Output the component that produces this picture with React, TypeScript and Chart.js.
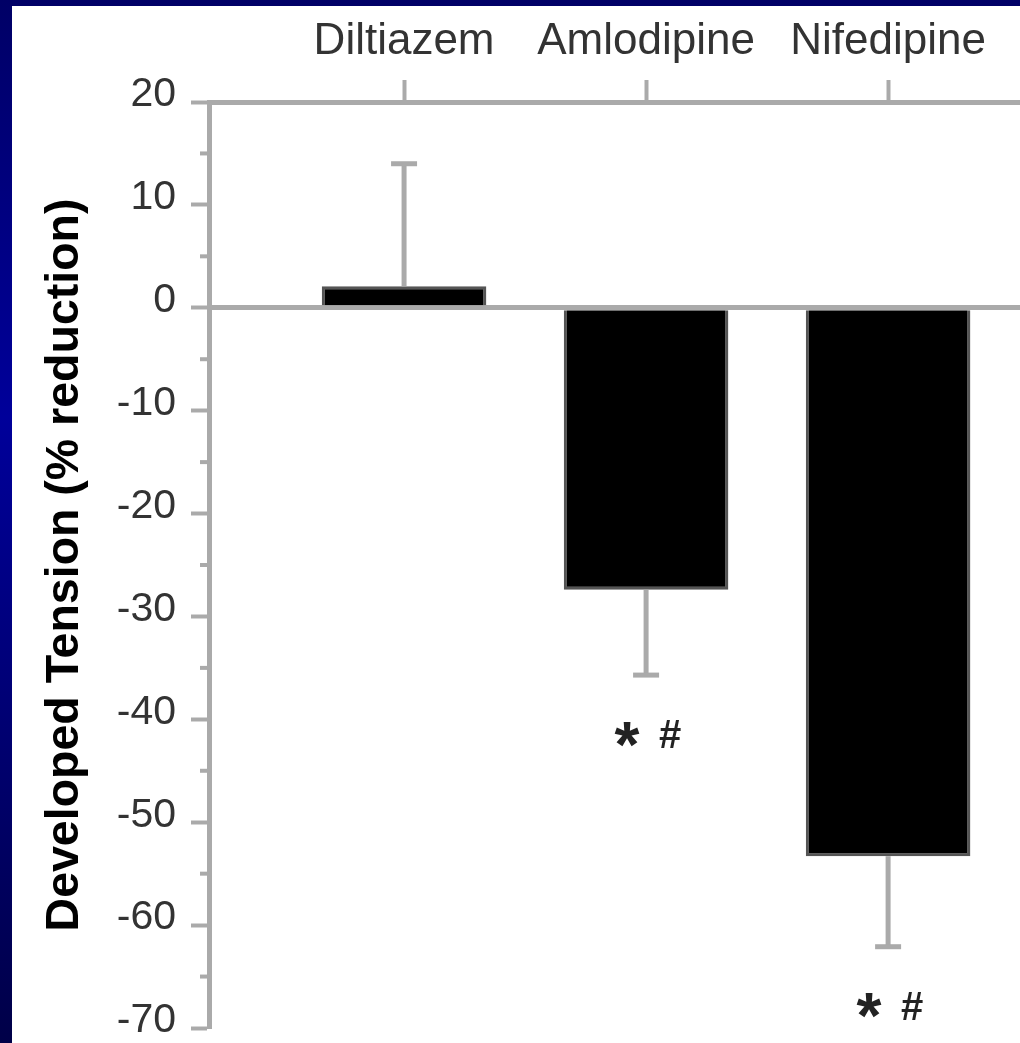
import { useEffect, useRef } from 'react';
import { Chart, registerables } from 'chart.js';

Chart.register(...registerables);

// ---- data ----
const categories = ['Diltiazem', 'Amlodipine', 'Nifedipine'];
const reductionValues = [2.1, -27.4, -53.3];
const errorValues = [11.9, 8.3, 8.8];
const significanceMarks = ['', '* #', '* #'];
const yTickValues = [20, 10, 0, -10, -20, -30, -40, -50, -60, -70];
const yMinorTickValues = [15, 5, -5, -15, -25, -35, -45, -55, -65];
const yTitle = 'Developed Tension (% reduction)';

const FONT = '"Liberation Sans", Arial, Helvetica, sans-serif';

function drawInkCentered(ctx: CanvasRenderingContext2D, text: string, font: string, cx: number, cy: number) {
  ctx.font = font;
  ctx.textAlign = 'left';
  ctx.textBaseline = 'alphabetic';
  const m = ctx.measureText(text);
  const x = cx - (m.actualBoundingBoxRight - m.actualBoundingBoxLeft) / 2;
  const y = cy + (m.actualBoundingBoxAscent - m.actualBoundingBoxDescent) / 2;
  ctx.fillText(text, x, y);
}

const errorBarPlugin = {
  id: 'errorBars',
  afterDatasetsDraw(chart: any) {
    const { ctx } = chart;
    const meta = chart.getDatasetMeta(0);
    const yScale = chart.scales.y;
    ctx.save();
    meta.data.forEach((bar: any, i: number) => {
      const v = reductionValues[i];
      const err = errorValues[i];
      const endVal = v >= 0 ? v + err : v - err;
      const x = bar.x;
      const y0 = bar.y;
      const y1 = yScale.getPixelForValue(endVal);
      ctx.strokeStyle = '#aaaaaa';
      ctx.lineWidth = 5;
      ctx.lineCap = 'butt';
      ctx.beginPath();
      ctx.moveTo(x, y0);
      ctx.lineTo(x, y1);
      ctx.stroke();
      ctx.beginPath();
      ctx.moveTo(x - 13, y1);
      ctx.lineTo(x + 13, y1);
      ctx.stroke();
      const mark = significanceMarks[i];
      if (mark) {
        const parts = mark.split(' ');
        const cy = y1 + 59;
        ctx.fillStyle = '#222222';
        drawInkCentered(ctx, parts[0], `bold 64px ${FONT}`, x - 19, cy);
        drawInkCentered(ctx, parts[1], `bold 40px ${FONT}`, x + 24, cy);
      }
    });
    ctx.restore();
  },
};

const minorTickPlugin = {
  id: 'minorTicks',
  afterDraw(chart: any) {
    const { ctx } = chart;
    const yScale = chart.scales.y;
    const left = chart.chartArea.left;
    ctx.save();
    ctx.strokeStyle = '#aaaaaa';
    ctx.lineWidth = 4;
    yMinorTickValues.forEach((v) => {
      const y = yScale.getPixelForValue(v);
      ctx.beginPath();
      ctx.moveTo(left - 9, y);
      ctx.lineTo(left, y);
      ctx.stroke();
    });
    ctx.restore();
  },
};

export default function App() {
  const canvasRef = useRef<HTMLCanvasElement>(null);

  useEffect(() => {
    const canvas = canvasRef.current;
    if (!canvas) return;
    const chart = new Chart(canvas, {
      type: 'bar',
      data: {
        datasets: [
          {
            data: categories.map((_, i) => ({ x: i, y: reductionValues[i] })),
            backgroundColor: '#000000',
            borderColor: '#555555',
            borderWidth: 3,
            borderSkipped: 'start',
            barPercentage: 0.68,
            categoryPercentage: 1,
          },
        ],
      },
      options: {
        animation: false,
        responsive: false,
        layout: { padding: { top: 0, left: 0, right: 0, bottom: 40 } },
        plugins: {
          legend: { display: false },
          tooltip: { enabled: false },
          title: { display: false },
        },
        scales: {
          x: {
            type: 'linear',
            position: 'top',
            offset: false,
            min: -0.806,
            max: 2.545,
            bounds: 'data',
            afterBuildTicks: (s: any) => {
              s.ticks = categories.map((_, i) => ({ value: i }));
            },
            afterFit: (s: any) => {
              s.height = 96;
            },
            ticks: {
              autoSkip: false,
              maxRotation: 0,
              padding: 12,
              color: '#333333',
              font: { family: FONT, size: 44 },
              callback: (v: any) => categories[v] ?? '',
            },
            grid: {
              offset: false,
              drawOnChartArea: false,
              tickLength: 22,
              tickColor: '#aaaaaa',
              tickWidth: 4,
            },
            border: { display: true, color: '#aaaaaa', width: 5 },
          },
          y: {
            type: 'linear',
            min: -70,
            max: 20,
            afterBuildTicks: (s: any) => {
              s.ticks = yTickValues.map((v) => ({ value: v }));
            },
            afterFit: (s: any) => {
              s.width = 197;
            },
            ticks: {
              autoSkip: false,
              padding: 15,
              labelOffset: -7,
              color: '#333333',
              font: { family: FONT, size: 41 },
              callback: (v: any) => `${v}`,
            },
            grid: {
              drawOnChartArea: true,
              color: (c: any) => (c.tick && c.tick.value === 0 ? '#aaaaaa' : 'rgba(0,0,0,0)'),
              lineWidth: (c: any) => (c.tick && c.tick.value === 0 ? 5 : 1),
              tickLength: 18,
              tickColor: '#aaaaaa',
              tickWidth: 4,
            },
            border: { display: true, color: '#aaaaaa', width: 5 },
            title: {
              display: true,
              text: yTitle,
              color: '#000000',
              font: { family: FONT, size: 46.5, weight: 'bold' },
              padding: { top: 25, bottom: 0 },
            },
          },
        },
      },
      plugins: [errorBarPlugin, minorTickPlugin],
    } as any);
    return () => chart.destroy();
  }, []);

  return (
    <div
      style={{
        position: 'fixed',
        left: 0,
        top: 0,
        width: 1020,
        height: 1043,
        overflow: 'hidden',
        background: 'linear-gradient(to bottom, #000066 0%, #00009a 40%, #000048 100%)',
      }}
    >
      <div
        style={{
          position: 'absolute',
          left: 12,
          top: 6,
          width: 1008,
          height: 1062,
          background: '#ffffff',
        }}
      >
        <canvas
          ref={canvasRef}
          width={1008}
          height={1062}
          style={{ display: 'block', width: 1008, height: 1062 }}
        />
      </div>
    </div>
  );
}
